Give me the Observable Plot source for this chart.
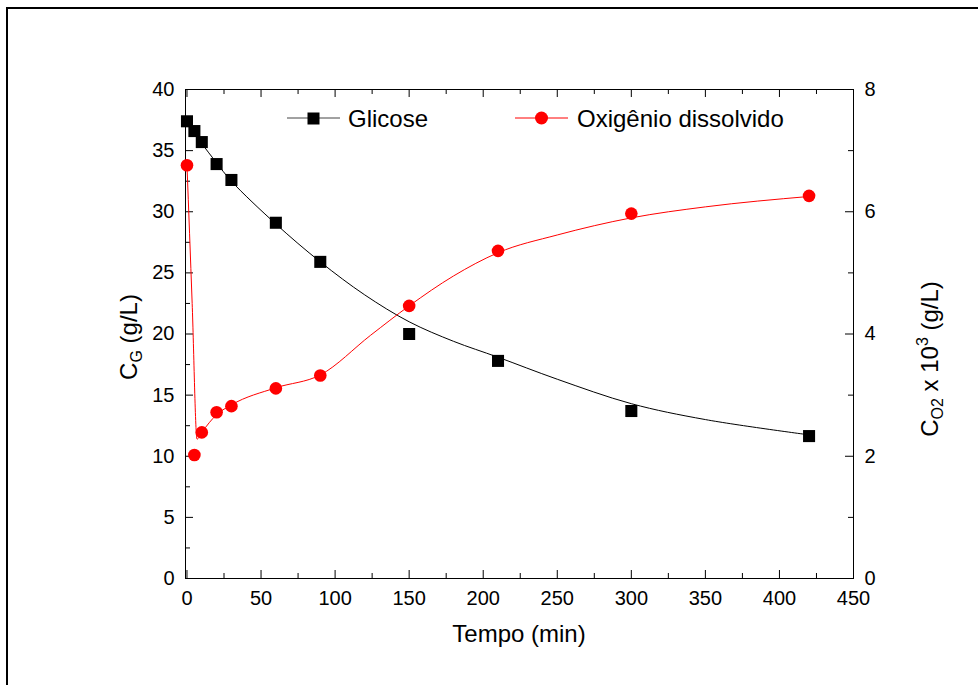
<!DOCTYPE html>
<html><head><meta charset="utf-8">
<script src="https://cdn.jsdelivr.net/npm/d3@7"></script>
<script src="https://cdn.jsdelivr.net/npm/@observablehq/plot@0.6"></script>
<style>
body{margin:0;background:#fff}
svg{display:block}
</style>
</head><body><div id="chart"></div>
<script>
// ---- data ----
const tempo    = [0, 5, 10, 20, 30, 60, 90, 150, 210, 300, 420];
const glicose  = [37.4, 36.6, 35.7, 33.9, 32.6, 29.1, 25.9, 20.0, 17.8, 13.7, 11.65];
const oxigenio = [6.76, 2.02, 2.39, 2.72, 2.82, 3.11, 3.32, 4.46, 5.36, 5.97, 6.26];

// fitted curves
const tempoAjusteG  = [0, 5, 10, 20, 30, 60, 90, 120, 150, 180, 210, 250, 300, 350, 420];
const glicoseAjuste = [37.6, 36.6, 35.6, 34.0, 32.5, 29.0, 25.9, 23.2, 21.0, 19.4, 18.1, 16.3, 14.3, 13.0, 11.75];
const tempoAjusteO   = [0, 3.5, 6.8, 10, 20, 30, 60, 90, 124, 150, 180, 210, 250, 300, 350, 420];
const oxigenioAjuste = [6.76, 4.5, 2.28, 2.39, 2.68, 2.84, 3.12, 3.33, 3.98, 4.46, 4.95, 5.33, 5.62, 5.90, 6.08, 6.25];

// ticks
const xTicks  = [0, 50, 100, 150, 200, 250, 300, 350, 400, 450];
const xMinor  = [25, 75, 125, 175, 225, 275, 325, 375, 425];
const yTicks  = [0, 5, 10, 15, 20, 25, 30, 35, 40];
const yMinor  = [2.5, 7.5, 12.5, 17.5, 22.5, 27.5, 32.5, 37.5];
const y2Ticks = [0, 2, 4, 6, 8];
const y2Minor = [1, 3, 5, 7];
const y2Factor = 5; // right axis 0..8 maps on left axis 0..40

const legendLabels = ["Glicose", "Oxigênio dissolvido"];

// ---- tables ----
const gPts = tempo.map((t, i) => ({t, v: glicose[i]}));
const oPts = tempo.map((t, i) => ({t, v: oxigenio[i]}));
const gFit = tempoAjusteG.map((t, i) => ({t, v: glicoseAjuste[i]}));
const oFit = tempoAjusteO.map((t, i) => ({t, v: oxigenioAjuste[i]}));

const W = 978, H = 685;
const mL = 185, mR = 125, mT = 89, mB = 107;
const PW = W - mL - mR, PH = H - mT - mB;
const FONT = "'Liberation Sans', Arial, sans-serif";
const MAJ = 8, MIN = 5;

const svg = Plot.plot({
  width: W, height: H,
  marginLeft: mL, marginRight: mR, marginTop: mT, marginBottom: mB,
  style: {fontFamily: FONT, fontSize: "20px", background: "white", color: "black", overflow: "visible"},
  x: {domain: [-1, 450]},
  y: {domain: [0, 40]},
  marks: [
    Plot.frame({stroke: "black", strokeWidth: 1}),
    // inward ticks bottom / top
    Plot.tickX(xTicks, {x: d => d, insetTop: PH - MAJ, stroke: "black"}),
    Plot.tickX(xMinor, {x: d => d, insetTop: PH - MIN, stroke: "black"}),
    Plot.tickX(xTicks, {x: d => d, insetBottom: PH - MAJ, stroke: "black"}),
    Plot.tickX(xMinor, {x: d => d, insetBottom: PH - MIN, stroke: "black"}),
    // inward ticks left / right
    Plot.tickY(yTicks, {y: d => d, insetRight: PW - MAJ, stroke: "black"}),
    Plot.tickY(yMinor, {y: d => d, insetRight: PW - MIN, stroke: "black"}),
    Plot.tickY(y2Ticks, {y: d => d * y2Factor, insetLeft: PW - MAJ, stroke: "black"}),
    Plot.tickY(y2Minor, {y: d => d * y2Factor, insetLeft: PW - MIN, stroke: "black"}),
    // tick labels
    Plot.axisX({anchor: "bottom", ticks: xTicks, tickSize: 0, tickPadding: 12, label: null, fontSize: 20}),
    Plot.axisY({anchor: "left", ticks: yTicks, tickSize: 0, tickPadding: 11, label: null, fontSize: 20}),
    Plot.axisY({anchor: "right", ticks: y2Ticks.map(v => v * y2Factor), tickFormat: d => d / y2Factor,
                tickSize: 0, tickPadding: 11, label: null, fontSize: 20}),
    // curves
    Plot.line(gFit, {x: "t", y: "v", stroke: "black", strokeWidth: 1, curve: "catmull-rom"}),
    Plot.line(oFit, {x: "t", y: d => d.v * y2Factor, stroke: "#ff0000", strokeWidth: 1, curve: "monotone-x"}),
    // points
    Plot.dot(gPts, {x: "t", y: "v", symbol: "square", r: 6.8, fill: "black", stroke: "none"}),
    Plot.dot(oPts, {x: "t", y: d => d.v * y2Factor, symbol: "circle", r: 6.3, fill: "#ff0000", stroke: "none"})
  ]
});

const s = d3.select(svg);
// outer figure border (top and left)
s.append("line").attr("x1", 7).attr("x2", W).attr("y1", 8).attr("y2", 8).attr("stroke", "black").attr("stroke-width", 2);
s.append("line").attr("x1", 7).attr("x2", 7).attr("y1", 7).attr("y2", H).attr("stroke", "black").attr("stroke-width", 2);

// axis titles
s.append("text").attr("x", mL + PW / 2).attr("y", 642).attr("text-anchor", "middle")
  .attr("font-family", FONT).attr("font-size", 24).attr("fill", "black").text("Tempo (min)");

const tl = s.append("text").attr("transform", "translate(137,337) rotate(-90)").attr("text-anchor", "middle")
  .attr("font-family", FONT).attr("font-size", 24).attr("fill", "black");
tl.append("tspan").text("C");
tl.append("tspan").attr("font-size", 16).attr("dy", 5).text("G");
tl.append("tspan").attr("dy", -5).text(" (g/L)");

const tr = s.append("text").attr("transform", "translate(938,359) rotate(-90)").attr("text-anchor", "middle")
  .attr("font-family", FONT).attr("font-size", 24).attr("fill", "black");
tr.append("tspan").text("C");
tr.append("tspan").attr("font-size", 16).attr("dy", 5).text("O2");
tr.append("tspan").attr("dy", -5).text(" x 10");
tr.append("tspan").attr("font-size", 16).attr("dy", -10).text("3");
tr.append("tspan").attr("dy", 10).text(" (g/L)");

// legend
const lg = s.append("g").attr("font-family", FONT).attr("font-size", 24).attr("text-anchor", "start");
lg.append("line").attr("x1", 287).attr("x2", 340).attr("y1", 118).attr("y2", 118).attr("stroke", "#444").attr("stroke-width", 1);
lg.append("rect").attr("x", 307.5).attr("y", 112.5).attr("width", 12).attr("height", 12).attr("fill", "black");
lg.append("text").attr("x", 348).attr("y", 126.5).attr("fill", "black").attr("text-anchor", "start").text(legendLabels[0]);
lg.append("line").attr("x1", 515).attr("x2", 568).attr("y1", 118).attr("y2", 118).attr("stroke", "#ff0000").attr("stroke-width", 1);
lg.append("circle").attr("cx", 541.5).attr("cy", 118).attr("r", 6.5).attr("fill", "#ff0000");
lg.append("text").attr("x", 577).attr("y", 126.5).attr("fill", "black").attr("text-anchor", "start").text(legendLabels[1]);

document.getElementById("chart").appendChild(svg);
</script>
</body></html>
